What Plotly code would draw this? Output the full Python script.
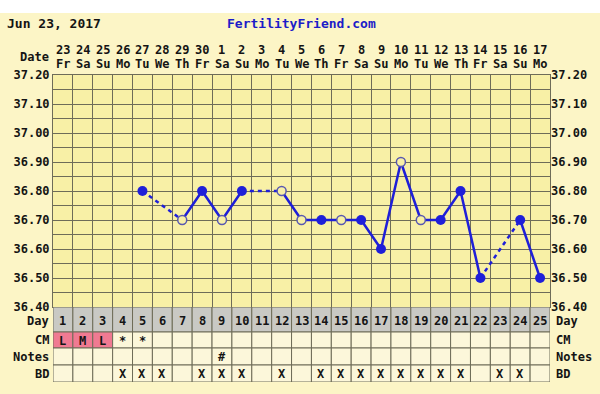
import plotly.graph_objects as go

# ---------------- data ----------------
cycle_days = list(range(1, 26))
date_nums = ["23", "24", "25", "26", "27", "28", "29", "30", "1", "2", "3", "4", "5",
             "6", "7", "8", "9", "10", "11", "12", "13", "14", "15", "16", "17"]
weekdays = ["Fr", "Sa", "Su", "Mo", "Tu", "We", "Th", "Fr", "Sa", "Su", "Mo", "Tu", "We",
            "Th", "Fr", "Sa", "Su", "Mo", "Tu", "We", "Th", "Fr", "Sa", "Su", "Mo"]
temps = [None, None, None, None, 36.80, None, 36.70, 36.80, 36.70, 36.80, None, 36.80, 36.70,
         36.70, 36.70, 36.70, 36.60, 36.90, 36.70, 36.70, 36.80, 36.50, None, 36.70, 36.50]
open_marker = [False, False, False, False, False, False, True, False, True, False, False, True, True,
               False, True, False, False, True, True, False, False, False, False, False, False]
cm = ["L", "M", "L", "*", "*", "", "", "", "", "", "", "", "",
      "", "", "", "", "", "", "", "", "", "", "", ""]
cm_pink = [True, True, True] + [False] * 22
notes = [""] * 8 + ["#"] + [""] * 16
bd = ["", "", "", "X", "X", "X", "", "X", "X", "X", "", "X", "",
      "X", "X", "X", "X", "X", "X", "X", "X", "", "X", "X", ""]
y_ticks = [37.20, 37.10, 37.00, 36.90, 36.80, 36.70, 36.60, 36.50, 36.40]
title_date = "Jun 23, 2017"
site = "FertilityFriend.com"
row_labels = ["Day", "CM", "Notes", "BD"]

# ---------------- style ----------------
W, H = 600, 394
L, R, T, B = 53, 50, 75, 12
PH = H - T - B
PW = W - L - R
FONT = "DejaVu Sans Mono"
PANEL = "#FCF5C6"
PLOTBG = "#F8F0A6"
CELL = "#FCF7DA"
GRAY = "#C9C9C4"
PINK = "#F07A92"
GRID = "#6E6C58"
BLUE = "#1F1FD8"
TXT = "#141414"


def py(pix):
    return (H - B - pix) / PH


def px(pix):
    return (pix - L) / PW


table_px = 75  # table height in px (307..382)
rows = [0, 25, 41, 58, 75]  # row boundaries in y2 units (px-like)

fig = go.Figure()

xs = cycle_days
fig.add_trace(go.Scatter(x=xs, y=temps, mode="lines", line=dict(color=BLUE, width=2.5),
                         connectgaps=False, hoverinfo="skip", showlegend=False))
valid = [i for i, t in enumerate(temps) if t is not None]
for a, b in zip(valid[:-1], valid[1:]):
    if b - a > 1:
        fig.add_trace(go.Scatter(x=[xs[a], xs[b]], y=[temps[a], temps[b]], mode="lines",
                                 line=dict(color=BLUE, width=2.5, dash="4px,4px"),
                                 hoverinfo="skip", showlegend=False))
fx = [xs[i] for i in valid if not open_marker[i]]
fy = [temps[i] for i in valid if not open_marker[i]]
ox = [xs[i] for i in valid if open_marker[i]]
oy = [temps[i] for i in valid if open_marker[i]]
fig.add_trace(go.Scatter(x=fx, y=fy, mode="markers",
                         marker=dict(color=BLUE, size=10, line=dict(width=0)), showlegend=False))
fig.add_trace(go.Scatter(x=ox, y=oy, mode="markers",
                         marker=dict(color=PLOTBG, size=9, line=dict(color="#5858B0", width=1.5)),
                         showlegend=False))

grid_vals = [round(36.40 + 0.05 * k, 2) for k in range(17)]
grid_text = [f"{v:.2f}" if any(abs(v - t) < 1e-6 for t in y_ticks) else "" for v in grid_vals]

tickfont = dict(family=FONT, size=12, color=TXT, weight="bold")
fig.update_layout(
    template="none",
    width=W, height=H, margin=dict(l=L, r=R, t=T, b=B, pad=0, autoexpand=False),
    paper_bgcolor=PANEL, plot_bgcolor=PLOTBG,
    xaxis=dict(range=[0.5, 25.5], tickvals=[k + 0.5 for k in range(0, 26)], showticklabels=False,
               showgrid=True, gridcolor=GRID, gridwidth=1, zeroline=False, ticks="",
               showline=True, linecolor=GRID, mirror=True, anchor="y", domain=[0, 1], automargin=False),
    yaxis=dict(range=[36.40, 37.20], domain=[table_px / PH, 1], tickvals=grid_vals, ticktext=grid_text,
               showgrid=True, gridcolor=GRID, gridwidth=1, zeroline=False, ticks="",
               tickfont=tickfont, showline=True, linecolor=GRID, mirror=True, automargin=False),
    yaxis3=dict(range=[36.40, 37.20], overlaying="y", side="right", tickvals=y_ticks,
                ticktext=[f"{v:.2f}" for v in y_ticks], showgrid=False, zeroline=False,
                ticks="", tickfont=tickfont, anchor="x", automargin=False),
    xaxis2=dict(range=[0.5, 25.5], anchor="y2", visible=False, domain=[0, 1], automargin=False),
    yaxis2=dict(range=[table_px, 0], domain=[0, table_px / PH], visible=False, anchor="x2",
                automargin=False),
)
fig.add_trace(go.Scatter(x=[None], y=[None], yaxis="y3", showlegend=False))
fig.add_trace(go.Scatter(x=[None], y=[None], xaxis="x2", yaxis="y2", showlegend=False))

shapes = []
shapes.append(dict(type="rect", xref="paper", yref="paper", x0=px(-5), x1=px(W + 5), y0=py(13), y1=py(-5),
                   fillcolor="white", line=dict(width=0), layer="above"))
for ri in range(4):
    for ci, d in enumerate(cycle_days):
        if ri == 0:
            col = GRAY
        elif ri == 1 and cm_pink[ci]:
            col = PINK
        else:
            col = CELL
        shapes.append(dict(type="rect", xref="x2", yref="y2", x0=d - 0.5, x1=d + 0.5,
                           y0=rows[ri], y1=rows[ri + 1], fillcolor=col,
                           line=dict(color=GRID, width=1), layer="above"))
fig.update_layout(shapes=shapes)

ann = []
f12 = dict(family=FONT, size=12, color=TXT, weight="bold")
ann.append(dict(x=px(5), y=py(24), xref="paper", yref="paper", text=title_date, showarrow=False,
                xanchor="left", yanchor="middle", font=dict(family=FONT, size=13, color=TXT, weight="bold")))
ann.append(dict(x=px(301), y=py(24), xref="paper", yref="paper", text=site, showarrow=False,
                xanchor="center", yanchor="middle", font=dict(family=FONT, size=13, color="#1C1CC8", weight="bold")))
ann.append(dict(x=px(51), y=py(57), xref="paper", yref="paper", text="Date", showarrow=False,
                xanchor="right", yanchor="middle", font=f12))
for d, dn, wd in zip(cycle_days, date_nums, weekdays):
    ann.append(dict(x=d, y=py(50), xref="x", yref="paper", text=dn, showarrow=False,
                    xanchor="center", yanchor="middle", font=f12))
    ann.append(dict(x=d, y=py(64), xref="x", yref="paper", text=wd, showarrow=False,
                    xanchor="center", yanchor="middle", font=f12))
label_y = [14, 33, 50, 67]
for lab, yy in zip(row_labels, label_y):
    ann.append(dict(x=px(51), y=yy, xref="paper", yref="y2", text=lab, showarrow=False,
                    xanchor="right", yanchor="middle", font=f12))
    ann.append(dict(x=px(554), y=yy, xref="paper", yref="y2", text=lab, showarrow=False,
                    xanchor="left", yanchor="middle", font=f12))
for ci, d in enumerate(cycle_days):
    ann.append(dict(x=d, y=13.5, xref="x2", yref="y2", text=str(d), showarrow=False,
                    xanchor="center", yanchor="middle", font=f12))
    for txt, rc in ((cm[ci], 33.5), (notes[ci], 50), (bd[ci], 67)):
        if txt:
            ann.append(dict(x=d, y=rc, xref="x2", yref="y2", text=txt, showarrow=False,
                            xanchor="center", yanchor="middle", font=f12))
fig.update_layout(annotations=ann)

fig.write_html("out.html", config={"displayModeBar": False},
               post_script="document.body.style.margin='0';document.body.style.overflow='hidden';")
